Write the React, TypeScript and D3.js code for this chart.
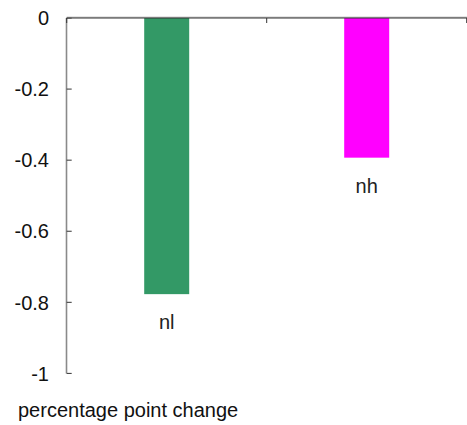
import React from "react";
import * as d3 from "d3";

const categories = ["nl", "nh"];
const values = [-0.777, -0.393];
const colors = ["#339966", "#ff00ff"];
const yTicks = [0, -0.2, -0.4, -0.6, -0.8, -1];
const yTickLabels = ["0", "-0.2", "-0.4", "-0.6", "-0.8", "-1"];
const axisTitle = "percentage point change";

export default function App() {
  const W = 467, H = 425;
  const left = 66.7, top = 18, bottom = 373.4, right = 466.7;
  const x = d3.scaleLinear().domain([0, categories.length]).range([left, right]);
  const y = d3.scaleLinear().domain([0, -1]).range([top, bottom]);
  const barW = 45;
  const font = "Liberation Sans, Arial, sans-serif";
  const fs = 20;
  const xTicks = d3.range(0, categories.length + 1);
  return (
    <svg width={W} height={H} style={{ position: "absolute", left: 0, top: 0 }}>
      <rect width={W} height={H} fill="#fff" />
      {categories.map((c, i) => {
        const cx = x(i + 0.5);
        const y0 = y(0), y1 = y(values[i]);
        return (
          <g key={c}>
            <rect x={cx - barW / 2} y={Math.min(y0, y1)} width={barW} height={Math.abs(y1 - y0)} fill={colors[i]} />
            <text x={cx} y={y1 + 35} textAnchor="middle" fontFamily={font} fontSize={fs} fill="#222">{c}</text>
          </g>
        );
      })}
      {/* y axis */}
      <line x1={left - 0.2} x2={left - 0.2} y1={top} y2={bottom} stroke="#8a8a8a" strokeWidth={1.6} />
      {yTicks.map((t, i) => (
        <g key={t}>
          <line x1={left} x2={left + 5} y1={y(t)} y2={y(t)} stroke="#333" strokeWidth={1} />
          <text x={49} y={y(t)} dy="0.36em" textAnchor="end" fontFamily={font} fontSize={fs} fill="#111">{yTickLabels[i]}</text>
        </g>
      ))}
      {/* top x axis */}
      <line x1={left} x2={W} y1={top - 0.8} y2={top - 0.8} stroke="#aaa" strokeWidth={1} />
      <line x1={left} x2={W} y1={top} y2={top} stroke="#333" strokeWidth={1} />
      {xTicks.map((t) => (
        <line key={t} x1={x(t)} x2={x(t)} y1={top} y2={top + 5} stroke="#333" strokeWidth={1} />
      ))}
      <text x={18} y={417} fontFamily={font} fontSize={fs} fill="#111">{axisTitle}</text>
    </svg>
  );
}
